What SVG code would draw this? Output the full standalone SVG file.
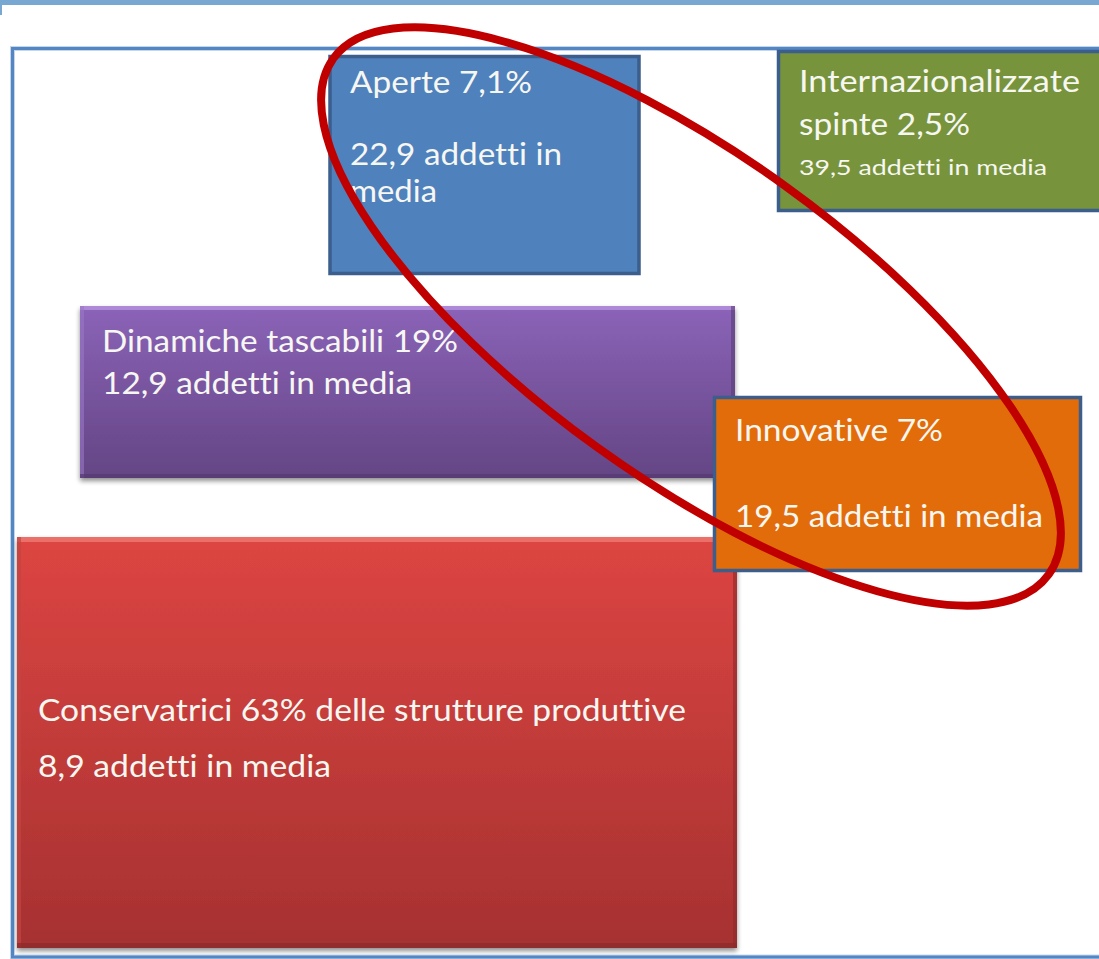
<svg xmlns="http://www.w3.org/2000/svg" width="1099" height="959" viewBox="0 0 1099 959">
  <defs>
    <linearGradient id="gPurple" x1="0" y1="0" x2="0" y2="1">
      <stop offset="0" stop-color="#8b63b8"/>
      <stop offset="1" stop-color="#644584"/>
    </linearGradient>
    <linearGradient id="gRed" x1="0" y1="0" x2="0" y2="1">
      <stop offset="0" stop-color="#dd4542"/>
      <stop offset="1" stop-color="#a63131"/>
    </linearGradient>
    <filter id="shadow" x="-5%" y="-5%" width="110%" height="115%">
      <feGaussianBlur in="SourceAlpha" stdDeviation="2.5"/>
      <feOffset dx="0" dy="3" result="b"/>
      <feComponentTransfer><feFuncA type="linear" slope="0.45"/></feComponentTransfer>
      <feMerge><feMergeNode/><feMergeNode in="SourceGraphic"/></feMerge>
    </filter>
  </defs>
  <style>
    .lbl { font-family: Lato, "Open Sans", "Liberation Sans", sans-serif; font-size: 30px; fill: #f7f7f2; font-variant-ligatures: none; font-feature-settings: "liga" 0, "clig" 0; }
    .sm { font-size: 22px; }
    .flat { stroke: #3b5e8c; stroke-width: 3.5; }
  </style>

  <rect x="0" y="0" width="1099" height="5" fill="#78a8d2"/>
  <rect x="0" y="5" width="2" height="10" fill="#78a8d2"/>
  <rect id="frame" x="12.5" y="48.5" width="1100" height="908.5" fill="#ffffff" stroke="#c4d6ec" stroke-width="5"/>
  <rect x="12.5" y="48.5" width="1100" height="908.5" fill="none" stroke="#5386c3" stroke-width="3"/>

  <g id="aperte">
    <rect class="flat" x="330" y="56.5" width="309" height="217" fill="#4f81bd"/>
    <text class="lbl" x="350" y="93" textLength="182" lengthAdjust="spacingAndGlyphs">Aperte 7,1%</text>
    <text class="lbl" x="350" y="165" textLength="212" lengthAdjust="spacingAndGlyphs">22,9 addetti in</text>
    <text class="lbl" x="350" y="202" textLength="87" lengthAdjust="spacingAndGlyphs">media</text>
  </g>

  <g id="internazionalizzate">
    <rect class="flat" x="778.5" y="51.5" width="340" height="159" fill="#77933c"/>
    <text class="lbl" x="799" y="92" textLength="281" lengthAdjust="spacingAndGlyphs">Internazionalizzate</text>
    <text class="lbl" x="799" y="135" textLength="171" lengthAdjust="spacingAndGlyphs">spinte 2,5%</text>
    <text class="lbl sm" x="799" y="175" textLength="248" lengthAdjust="spacingAndGlyphs">39,5 addetti in media</text>
  </g>

  <g id="dinamiche">
    <rect x="80" y="306" width="655" height="172" fill="url(#gPurple)" filter="url(#shadow)"/>
    <rect x="80" y="306" width="655" height="4" fill="#b592e0" opacity="0.8"/>
    <rect x="80" y="306" width="4" height="172" fill="#9a78c4" opacity="0.6"/>
    <rect x="731" y="306" width="4" height="172" fill="#5a3c78" opacity="0.6"/>
    <rect x="80" y="474" width="655" height="4" fill="#55386f" opacity="0.7"/>
    <text class="lbl" x="102" y="352" textLength="356" lengthAdjust="spacingAndGlyphs">Dinamiche tascabili 19%</text>
    <text class="lbl" x="102" y="394" textLength="310" lengthAdjust="spacingAndGlyphs">12,9 addetti in media</text>
  </g>

  <g id="conservatrici">
    <rect x="17" y="537" width="720" height="411" fill="url(#gRed)" filter="url(#shadow)"/>
    <rect x="17" y="537" width="720" height="5" fill="#f07a74" opacity="0.8"/>
    <rect x="17" y="537" width="4" height="411" fill="#c24442" opacity="0.7"/>
    <rect x="733" y="537" width="4" height="411" fill="#8e2a2a" opacity="0.6"/>
    <rect x="17" y="943" width="720" height="5" fill="#8a2b2b" opacity="0.7"/>
    <text class="lbl" x="38" y="721" textLength="648" lengthAdjust="spacingAndGlyphs">Conservatrici 63% delle strutture produttive</text>
    <text class="lbl" x="38" y="777" textLength="293" lengthAdjust="spacingAndGlyphs">8,9 addetti in media</text>
  </g>

  <g id="innovative">
    <rect class="flat" x="714.5" y="397.5" width="366" height="173" fill="#e36c0a"/>
    <text class="lbl" x="735" y="441" textLength="208" lengthAdjust="spacingAndGlyphs">Innovative 7%</text>
    <text class="lbl" x="735" y="527" textLength="308" lengthAdjust="spacingAndGlyphs">19,5 addetti in media</text>
  </g>

  <g id="highlight">
    <ellipse cx="691" cy="316.5" rx="441" ry="161" transform="rotate(35.8 691 316.5)" fill="none" stroke="#c00000" stroke-width="8"/>
  </g>
</svg>
